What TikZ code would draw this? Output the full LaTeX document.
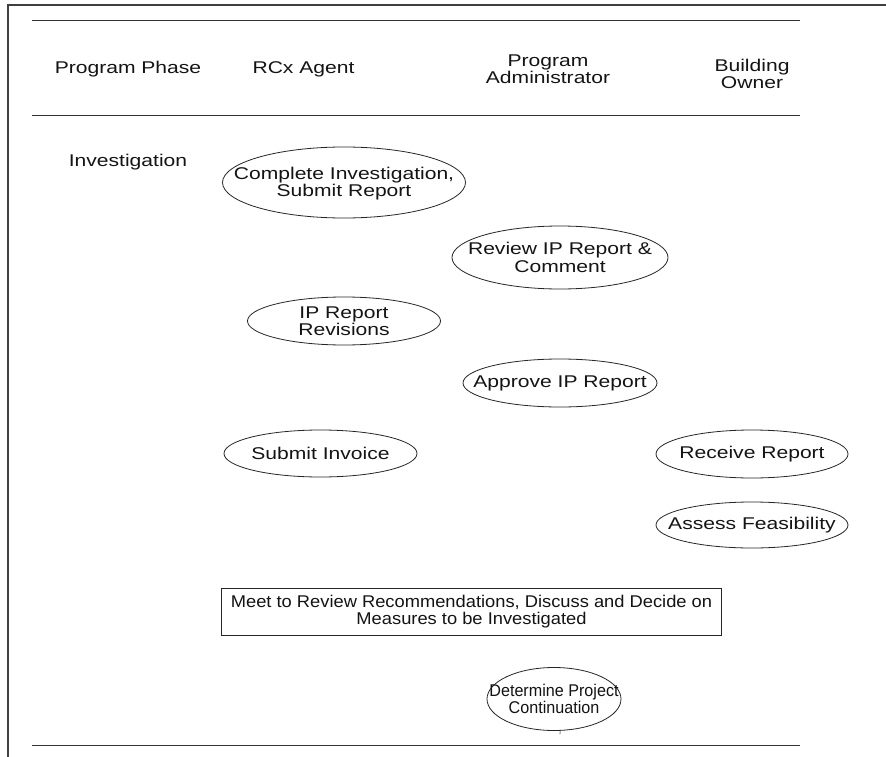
\documentclass[tikz,border=0pt]{standalone}
\usepackage{fontspec}
\setmainfont{Liberation Sans}[FakeStretch=1.24]
\newfontfamily\rectfont{Liberation Sans}[FakeStretch=1.077]
\newfontfamily\detfont{Liberation Sans}[FakeStretch=0.95]
\usetikzlibrary{shapes.geometric}
\begin{document}
\begin{tikzpicture}[x=1pt,y=-1pt,
  frame/.style={draw=black!75, line width=1.3pt},
  rule/.style={draw=black!80, line width=1pt},
  ell/.style={ellipse, draw=black!85, line width=0.8pt, inner sep=0pt},
  box/.style={rectangle, draw=black!85, line width=0.8pt, inner sep=0pt},
  txt/.style={align=center, inner sep=0pt, text=black!92, font=\fontsize{17}{17.5}\selectfont}]
\useasboundingbox (0,0) rectangle (886,757);
\fill[white] (0,0) rectangle (886,757);
% frame
\coordinate (tl) at (8,5);
\coordinate (tr) at (886,5);
\coordinate (bl) at (8,757);
\draw[frame] (tr) -- (tl) -- (bl);
% rules
\coordinate (r1a) at (32,21);  \coordinate (r1b) at (800,21);
\coordinate (r2a) at (32,115.5); \coordinate (r2b) at (800,115.5);
\coordinate (r3a) at (32,745.5); \coordinate (r3b) at (800,745.5);
\draw[rule] (r1a) -- (r1b);
\draw[rule] (r2a) -- (r2b);
\draw[rule] (r3a) -- (r3b);
% headers
\node[txt] (hPhase) at (128,69) {Program Phase};
\node[txt] (hAgent) at (303.5,69) {RCx Agent};
\node[txt] (hAdmin) at (548,69) {Program\\Administrator};
\node[txt] (hOwner) at (752,74) {Building\\Owner};
\node[txt] (invest) at (128,162) {Investigation};
% ellipses
\node[ell, minimum width=243pt, minimum height=71pt] (ci) at (344,182.5) {};
\node[txt] (ciT) at ([yshift=-1pt]ci.center) {Complete Investigation,\\Submit Report};
\node[ell, minimum width=216pt, minimum height=63pt] (rv) at (560,257.5) {};
\node[txt] (rvT) at (rv) {Review IP Report \&\\Comment};
\node[ell, minimum width=193pt, minimum height=48pt] (ipr) at (344,321) {};
\node[txt] (iprT) at (ipr) {IP Report\\Revisions};
\node[ell, minimum width=194pt, minimum height=48pt] (ap) at (560,383) {};
\node[txt] (apT) at (ap) {Approve IP Report};
\node[ell, minimum width=193pt, minimum height=47pt] (si) at (320.5,453.5) {};
\node[txt] (siT) at (si) {Submit Invoice};
\node[ell, minimum width=192pt, minimum height=48pt] (rr) at (752,454) {};
\node[txt] (rrT) at (rr) {Receive Report};
\node[ell, minimum width=192pt, minimum height=46pt] (af) at (752,525) {};
\node[txt] (afT) at (af) {Assess Feasibility};
% box
\node[box, minimum width=500pt, minimum height=47pt] (meet) at (471.5,611.5) {};
\node[txt, font=\rectfont\fontsize{17}{17.5}\selectfont] (meetT) at (meet) {Meet to Review Recommendations, Discuss and Decide on\\Measures to be Investigated};
% determine
\node[ell, minimum width=134pt, minimum height=63pt] (dp) at (554,699) {};
\node[txt, font=\detfont\fontsize{17}{17.5}\selectfont] (dpT) at (dp) {Determine Project\\Continuation};
\coordinate (tick) at (560,734);
\draw[draw=black!80, line width=0.6pt] (dp.-79) -- (tick);
\end{tikzpicture}
\end{document}
